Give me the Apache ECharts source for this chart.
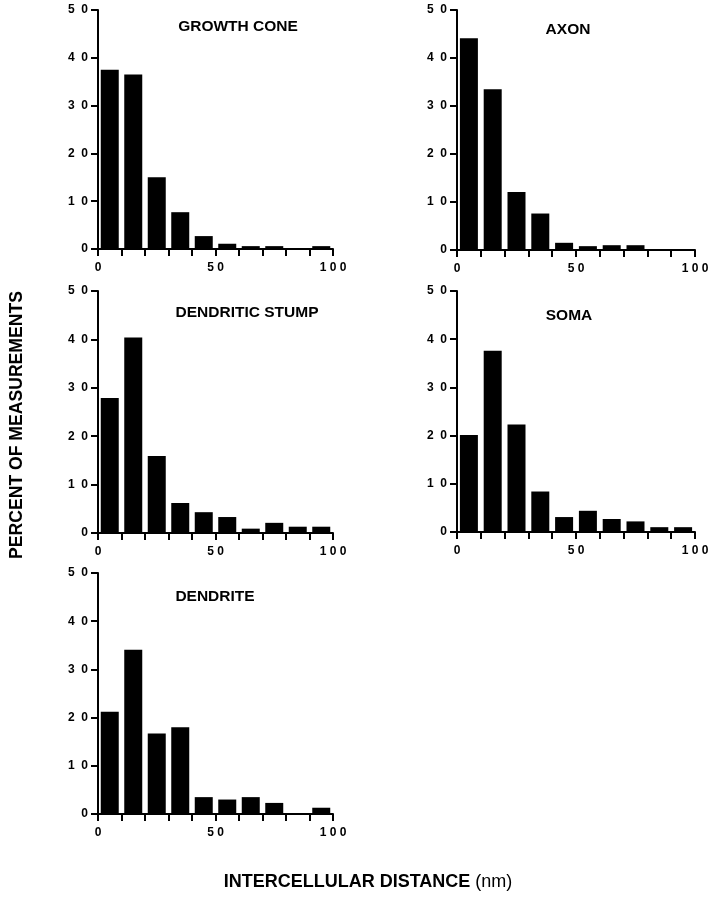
<!DOCTYPE html>
<html>
<head>
<meta charset="utf-8">
<script src="https://cdn.jsdelivr.net/npm/echarts@6/dist/echarts.min.js"></script>
<style>html,body{margin:0;padding:0;background:#fff}#c{width:712px;height:900px}</style>
</head>
<body>
<div id="c"></div>
<script>
// bin centres (nm)
const binCenters = [5, 15, 25, 35, 45, 55, 65, 75, 85, 95];
// panel names
const panelNames = ['GROWTH CONE', 'AXON', 'DENDRITIC STUMP', 'SOMA', 'DENDRITE'];
// percent of measurements per bin
const growthCone = [37.5, 36.5, 15.0, 7.7, 2.7, 1.1, 0.6, 0.6, 0, 0.6];
const axon = [44.1, 33.5, 12.1, 7.6, 1.5, 0.8, 1.0, 1.0, 0, 0];
const dendriticStump = [27.9, 40.4, 15.9, 6.2, 4.3, 3.3, 0.9, 2.1, 1.3, 1.3];
const soma = [20.1, 37.6, 22.3, 8.4, 3.1, 4.4, 2.7, 2.2, 1.0, 1.0];
const dendrite = [21.2, 34.1, 16.7, 18.0, 3.5, 3.0, 3.5, 2.3, 0, 1.3];
// tick labels
const xTickLabels = {0: '0', 50: '5 0', 100: '1 0 0'};
const yTickLabels = {0: '0', 10: '1  0', 20: '2  0', 30: '3  0', 40: '4  0', 50: '5  0'};
const xAxisTitle = 'INTERCELLULAR DISTANCE';
const xAxisUnit = '(nm)';
const yAxisTitle = 'PERCENT OF MEASUREMENTS';

const panelData = [growthCone, axon, dendriticStump, soma, dendrite];
const grids = [
  {left: 98, top: 10, width: 235, height: 239},
  {left: 457, top: 10, width: 238, height: 240},
  {left: 98, top: 291, width: 235, height: 242},
  {left: 457, top: 291, width: 238, height: 241},
  {left: 98, top: 573, width: 235, height: 241}
];
const titlePos = [[238, 27], [568, 30], [247, 313], [569, 316], [215, 597]];

const axisLine = {lineStyle: {color: '#000', width: 2}};
const axisTick = {show: true, length: 7, lineStyle: {color: '#000', width: 2}};
const labelFont = {color: '#000', fontSize: 12, fontWeight: 'bold', fontFamily: 'Liberation Sans, Arial, sans-serif'};

const option = {
  backgroundColor: '#fff',
  animation: false,
  grid: grids.map(g => Object.assign({containLabel: false}, g)),
  xAxis: grids.map((g, i) => ({
    gridIndex: i, type: 'value', min: 0, max: 100, interval: 10,
    axisLine: Object.assign({show: true, onZero: false}, axisLine),
    axisTick: axisTick,
    splitLine: {show: false},
    axisLabel: Object.assign({margin: 13, showMaxLabel: true, showMinLabel: true,
      formatter: v => (xTickLabels[v] !== undefined ? xTickLabels[v] : '')}, labelFont)
  })),
  yAxis: grids.map((g, i) => ({
    gridIndex: i, type: 'value', min: 0, max: 50, interval: 10,
    axisLine: Object.assign({show: true, onZero: false}, axisLine),
    axisTick: axisTick,
    splitLine: {show: false},
    axisLabel: Object.assign({margin: 10,
      formatter: v => (yTickLabels[v] !== undefined ? yTickLabels[v] : '')}, labelFont)
  })),
  series: panelData.map((arr, i) => ({
    type: 'bar', xAxisIndex: i, yAxisIndex: i,
    barWidth: 18,
    itemStyle: {color: '#000'},
    data: binCenters.map((c, j) => [c, arr[j]])
  })),
  graphic: [
    ...panelNames.map((n, i) => ({
      type: 'text', x: titlePos[i][0], y: titlePos[i][1],
      style: {text: n, textAlign: 'center', textVerticalAlign: 'middle',
        font: 'bold 15.5px "Liberation Sans", Arial, sans-serif', fill: '#000'}
    })),
    {
      type: 'text', x: 17, y: 425, rotation: Math.PI / 2,
      style: {text: yAxisTitle, textAlign: 'center', textVerticalAlign: 'middle',
        font: 'bold 17.6px "Liberation Sans", Arial, sans-serif', fill: '#000'}
    },
    {
      type: 'text', x: 368, y: 882,
      style: {
        text: '{b|' + xAxisTitle + ' }{n|' + xAxisUnit + '}',
        textAlign: 'center', textVerticalAlign: 'middle',
        rich: {
          b: {fontSize: 18, fontWeight: 'bold', fontFamily: 'Liberation Sans, Arial, sans-serif', fill: '#000', color: '#000'},
          n: {fontSize: 18, fontWeight: 'normal', fontFamily: 'Liberation Sans, Arial, sans-serif', fill: '#000', color: '#000'}
        }
      }
    }
  ]
};
const chart = echarts.init(document.getElementById('c'), null, {renderer: 'canvas'});
chart.setOption(option);
</script>
</body>
</html>
